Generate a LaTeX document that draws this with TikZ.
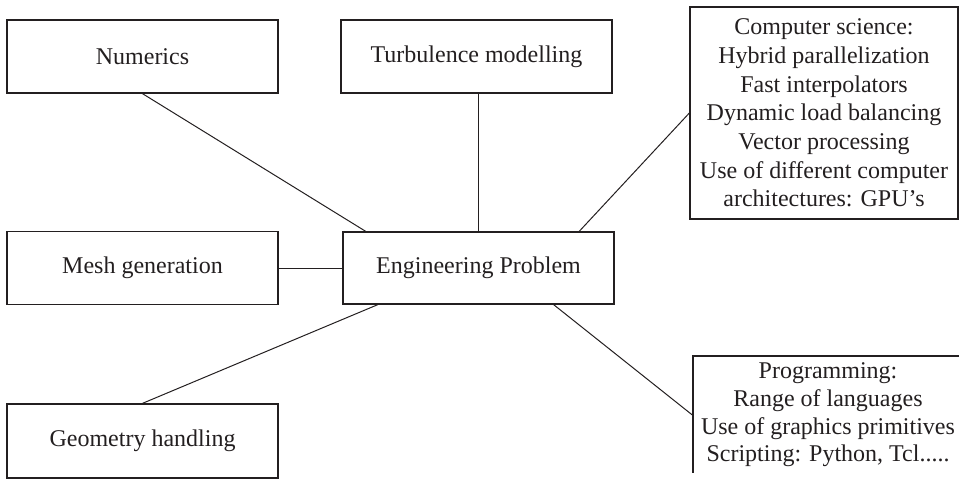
\documentclass[tikz,border=0pt]{standalone}
\usepackage{fontspec}
\setmainfont{Liberation Serif}
\definecolor{ink}{HTML}{231F20}
\begin{document}
\begin{tikzpicture}[x=0.5pt, y=-0.5pt, color=ink,
    topic/.style={draw, line width=0.65pt, minimum width=135.5pt, minimum height=36.5pt,
      inner sep=0pt, align=center, font=\fontsize{12}{14.35}\selectfont},
    link/.style={line width=0.5pt}]
    \useasboundingbox (0,0) rectangle (959,481);
    % left column
    \node[topic] (num) at (142.5,56.5) {Numerics};
    \node[topic] (mesh) at (142.5,268) {Mesh generation};
    \node[topic, minimum height=37pt] (geo) at (142.5,441) {Geometry handling};
    % middle column
    \node[topic] (turb) at (476.5,56.5) {Turbulence modelling};
    \node[topic, minimum height=36pt] (eng) at (478.5,268) {Engineering Problem};
    % right column
    \node[topic, minimum width=134pt, minimum height=106pt] (cs) at (824,113)
        {Computer science:\\ Hybrid parallelization\\ Fast interpolators\\
         Dynamic load balancing\\ Vector processing\\ Use of different computer\\
         architectures: GPU's};
    \begin{scope}
        \clip (680,340) rectangle (959,472);
        \node[topic, minimum width=135pt, minimum height=59pt,
            font=\fontsize{12}{13.85}\selectfont] (prog) at (828,415)
            {Programming:\\ Range of languages\\ Use of graphics primitives\\
             Scripting: Python, Tcl.....};
    \end{scope}
    \path[link]
        (num.south) edge (eng.162)
        (eng.north) edge (eng.north |- turb.south)
        (cs.west) edge (eng.20)
        (mesh.east) edge (eng.west)
        (geo.north) edge (eng.200)
        (prog.west) edge (eng.334);
\end{tikzpicture}
\end{document}
